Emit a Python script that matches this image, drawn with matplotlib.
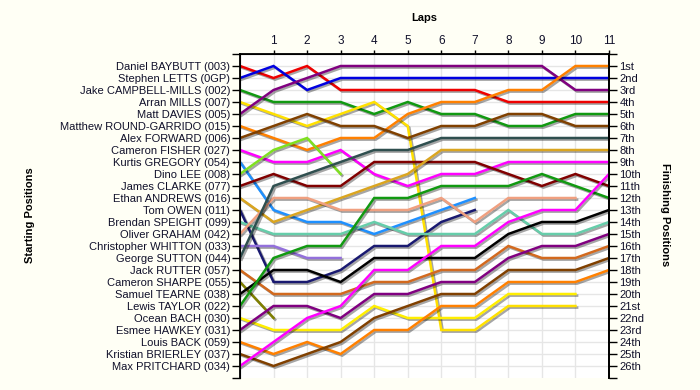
import matplotlib
matplotlib.use("Agg")
import matplotlib.pyplot as plt
import matplotlib.patheffects as pe
import numpy as np

plt.rcParams['font.family'] = ['Liberation Sans', 'DejaVu Sans']

laps = list(range(0, 12))

drivers = ['Daniel BAYBUTT (003)', 'Stephen LETTS (0GP)', 'Jake CAMPBELL-MILLS (002)',
           'Arran MILLS (007)', 'Matt DAVIES (005)', 'Matthew ROUND-GARRIDO (015)',
           'Alex FORWARD (006)', 'Cameron FISHER (027)', 'Kurtis GREGORY (054)',
           'Dino LEE (008)', 'James CLARKE (077)', 'Ethan ANDREWS (016)', 'Tom OWEN (011)',
           'Brendan SPEIGHT (099)', 'Oliver GRAHAM (042)', 'Christopher WHITTON (033)',
           'George SUTTON (044)', 'Jack RUTTER (057)', 'Cameron SHARPE (055)',
           'Samuel TEARNE (038)', 'Lewis TAYLOR (022)', 'Ocean BACH (030)',
           'Esmee HAWKEY (031)', 'Louis BACK (059)', 'Kristian BRIERLEY (037)',
           'Max PRITCHARD (034)']

finish_labels = ['1st', '2nd', '3rd', '4th', '5th', '6th', '7th', '8th', '9th', '10th',
                 '11th', '12th', '13th', '14th', '15th', '16th', '17th', '18th', '19th',
                 '20th', '21st', '22nd', '23rd', '24th', '25th', '26th']

# position at lap 0..11 (shorter list = retired)
baybutt = [1, 2, 1, 3, 3, 3, 3, 3, 4, 4, 4, 4]
letts = [2, 1, 3, 2, 2, 2, 2, 2, 2, 2, 2, 2]
campbell = [3, 4, 4, 4, 5, 4, 5, 5, 6, 6, 5, 5]
mills = [4, 5, 6, 5, 4, 6, 23, 23, 21, 21, 21]
davies = [5, 3, 2, 1, 1, 1, 1, 1, 1, 1, 3, 3]
round_garrido = [6, 7, 8, 7, 7, 5, 4, 4, 3, 3, 1, 1]
forward = [7, 6, 5, 6, 6, 7, 6, 6, 5, 5, 6, 6]
fisher = [8, 9, 9, 8, 10, 11, 10, 10, 9, 9, 9, 9]
gregory = [9, 13, 14, 14, 15, 14, 13, 12]
lee = [10, 8, 7, 10]
clarke = [11, 10, 11, 11, 9, 9, 9, 9, 10, 11, 10, 11]
andrews = [12, 14, 13, 12, 11, 10, 8, 8, 8, 8, 8, 8]
owen = [13, 19, 19, 18, 16, 16, 14, 13]
speight = [14, 15, 15, 15, 14, 15, 15, 15, 13, 15, 15, 14]
graham = [15, 12, 12, 13, 13, 13, 12, 14, 12, 12, 12]
whitton = [16, 16, 17, 17]
sutton = [17, 11, 10, 9, 8, 8, 7, 7, 7, 7, 7, 7]
rutter = [18, 20, 20, 20, 19, 19, 18, 18, 16, 17, 17, 16]
sharpe = [19, 22]
tearne = [20, 18, 18, 19, 17, 17, 17, 17, 15, 14, 14, 13]
taylor = [21, 17, 16, 16, 12, 12, 11, 11, 11, 10, 11, 12]
bach = [22, 23, 23, 23, 21, 22, 22, 22, 20, 20, 20]
hawkey = [23, 21, 21, 22, 20, 20, 19, 19, 17, 16, 16, 15]
back = [24, 25, 24, 25, 23, 23, 21, 21, 19, 19, 19, 18]
brierley = [25, 26, 25, 24, 22, 21, 20, 20, 18, 18, 18, 17]
pritchard = [26, 24, 22, 21, 18, 18, 16, 16, 14, 13, 13, 10]

positions = [baybutt, letts, campbell, mills, davies, round_garrido, forward, fisher,
             gregory, lee, clarke, andrews, owen, speight, graham, whitton, sutton,
             rutter, sharpe, tearne, taylor, bach, hawkey, back, brierley, pritchard]

colours = ['#EE0000', '#0000E0', '#119911', '#FFE000', '#800080', '#FF8000', '#804000',
           '#FF00FF', '#1E90FF', '#7FE020', '#800000', '#DAA520', '#191970', '#66CDAA',
           '#F0A080', '#9370DB', '#2F4F4F', '#D2691E', '#808000', '#000000', '#119911',
           '#FFEE00', '#800080', '#FF8000', '#804000', '#FF00FF']

txt = '#10102a'

fig = plt.figure(figsize=(7, 3.9), dpi=100, facecolor='#FFFFF5')
ax = fig.add_axes([240 / 700, 1 - 378 / 390, 369 / 700, 324 / 390])
ax.set_facecolor('white')

shadow = [pe.SimpleLineShadow(offset=(1.2, -1.2), shadow_color='k', alpha=0.35), pe.Normal()]
for pos, c in zip(positions, colours):
    ax.plot(laps[:len(pos)], pos, color=c, lw=1.8, solid_joinstyle='miter',
            path_effects=shadow, zorder=3)

ax.set_xlim(0, 11)
ax.set_ylim(27, 0)

ax.xaxis.tick_top()
ax.set_xticks(range(1, 12))
ax.set_xticklabels([str(i) for i in range(1, 12)], fontsize=8.5, color=txt)
ax.tick_params(axis='x', which='major', direction='out', length=3, width=1, pad=2, color='black')

ax.set_yticks(range(1, 27))
ax.set_yticklabels(drivers, fontsize=8, color=txt)
ax.set_yticks([0, 27], minor=True)
ax.tick_params(axis='y', which='both', direction='out', length=6, width=1, pad=1)

ax.grid(True, which='major', color='#E6E6E6', lw=1, zorder=0)
ax.set_axisbelow(True)

for s in ['left', 'right', 'top']:
    ax.spines[s].set_linewidth(1.3)
ax.spines['bottom'].set_visible(False)

ax2 = ax.twinx()
ax2.set_ylim(27, 0)
ax2.set_yticks(range(1, 27))
ax2.set_yticklabels(finish_labels, fontsize=8, color=txt)
ax2.set_yticks([0, 27], minor=True)
ax2.tick_params(axis='y', which='both', direction='out', length=6, width=1, pad=1.5)
ax2.spines['right'].set_linewidth(1.3)
ax2.spines['bottom'].set_visible(False)

fig.text(424 / 700, 1 - 18 / 390, 'Laps', ha='center', va='center', fontsize=8, fontweight='bold')
fig.text(30 / 700, 1 - 215 / 390, 'Starting Positions', ha='center', va='center',
         rotation=90, fontsize=8, fontweight='bold')
fig.text(665 / 700, 1 - 215 / 390, 'Finishing Positions', ha='center', va='center',
         rotation=-90, fontsize=8, fontweight='bold')

fig.savefig('out.png', dpi=100, facecolor=fig.get_facecolor())
